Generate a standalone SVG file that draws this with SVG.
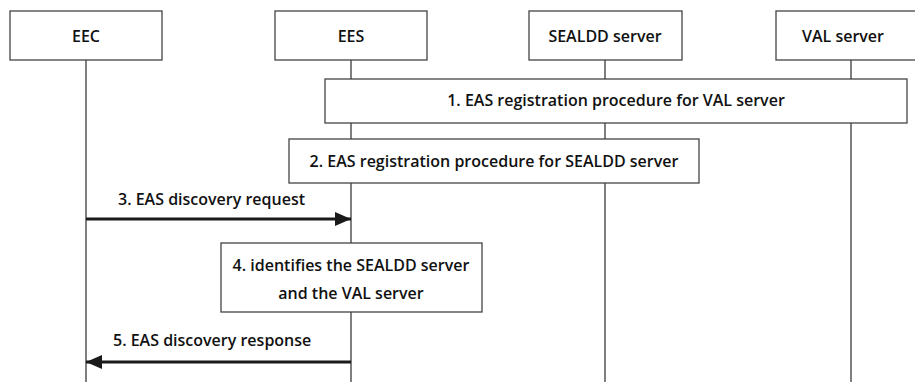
<svg xmlns="http://www.w3.org/2000/svg" width="915" height="382" viewBox="0 0 915 382">
<defs>
<style>
.box{fill:#fff;stroke:#444;stroke-width:1.3}
.life{stroke:#555;stroke-width:1.5;fill:none}
.msg{stroke:#1a1a1a;stroke-width:3;fill:none}
text{font-family:"Open Sans","Noto Sans",sans-serif;font-weight:600;font-size:16px;fill:#111}
.c{text-anchor:middle}
</style>
<marker id="ah" markerWidth="16" markerHeight="14" refX="16" refY="7" orient="auto" markerUnits="userSpaceOnUse">
<path d="M0,0 L16,7 L0,14 Z" fill="#1a1a1a"/>
</marker>
</defs>
<rect width="915" height="382" fill="#fff"/>
<g id="lifelines">
<line class="life" x1="86" y1="60" x2="86" y2="382"/>
<line class="life" x1="351" y1="60" x2="351" y2="382"/>
<line class="life" x1="605" y1="60" x2="605" y2="382"/>
<line class="life" x1="851" y1="60" x2="851" y2="382"/>
</g>
<g id="EEC"><rect class="box" x="10" y="11" width="152" height="49"/><text class="c" x="86" y="42">EEC</text></g>
<g id="EES"><rect class="box" x="275" y="11" width="152" height="49"/><text class="c" x="351" y="42">EES</text></g>
<g id="SEALDD"><rect class="box" x="529" y="11" width="153" height="49"/><text class="c" x="605" y="42">SEALDD server</text></g>
<g id="VAL"><rect class="box" x="776" y="11" width="160" height="49"/><text class="c" x="843" y="42">VAL server</text></g>
<g id="step1"><rect class="box" x="325" y="79" width="582" height="44"/><text class="c" x="616" y="106">1. EAS registration procedure for VAL server</text></g>
<g id="step2"><rect class="box" x="289" y="139" width="410" height="44"/><text class="c" x="494" y="167">2. EAS registration procedure for SEALDD server</text></g>
<g id="step4"><rect class="box" x="221" y="243" width="261" height="69"/><text class="c" x="351" y="271">4. identifies the SEALDD server</text><text class="c" x="351" y="299">and the VAL server</text></g>
<g id="connectors">
<line class="msg" x1="86" y1="219" x2="351" y2="219" marker-end="url(#ah)"/>
<text x="118" y="205">3. EAS discovery request</text>
<line class="msg" x1="351" y1="362" x2="86" y2="362" marker-end="url(#ah)"/>
<text x="113" y="346">5. EAS discovery response</text>
</g>
</svg>
